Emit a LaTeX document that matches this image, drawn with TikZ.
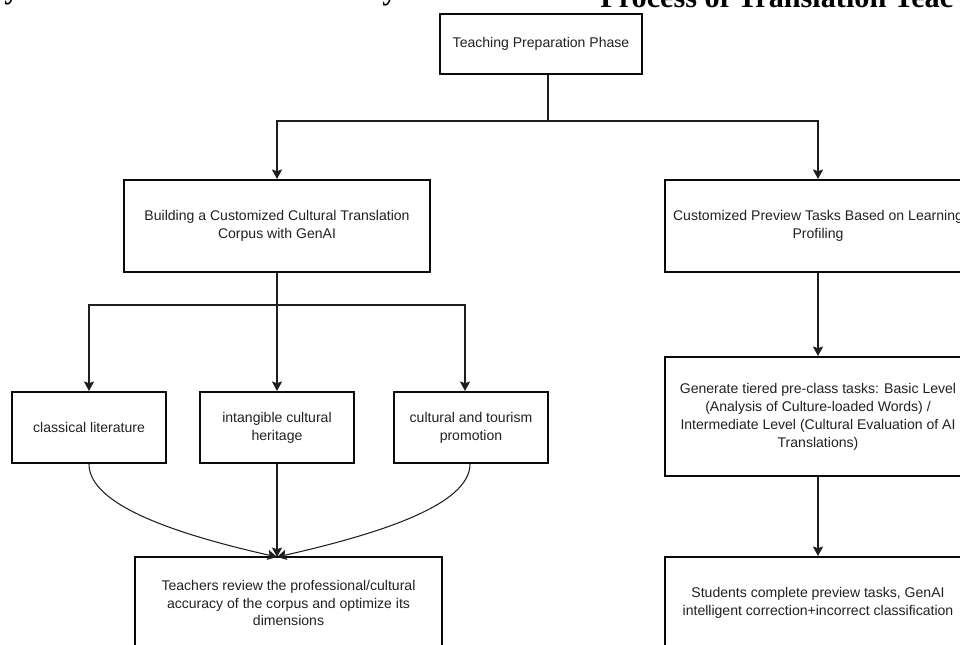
\documentclass[tikz,border=0pt]{standalone}
\usepackage{fontspec}
\setmainfont{Liberation Sans}
\newfontfamily\titlefont{Liberation Serif}
\usetikzlibrary{arrows.meta,calc}
\definecolor{boxline}{HTML}{0A0A0A}
\definecolor{boxtext}{HTML}{222222}
\definecolor{linkgray}{HTML}{1E1E1E}

\begin{document}
\begin{tikzpicture}[x=0.02cm, y=-0.02cm,
  every node/.style={font=\fontsize{8pt}{10.2pt}\selectfont, text=boxtext},
  box/.style={draw=boxline, line width=1.2pt, fill=white, align=center,
    inner sep=2pt},
  wide/.style={box, minimum width=6.13cm, minimum height=1.84cm},
  small/.style={box, minimum width=3.08cm, minimum height=1.42cm},
  cut/.style={font=\titlefont\bfseries\fontsize{17.2pt}{20pt}\selectfont,
    text=black, inner sep=0pt},
  link/.style={draw=linkgray, line width=0.6pt},
  arr/.style={link, -{Stealth[length=5.4pt, width=5.8pt, inset=1pt]}}]

  % ---- Frame (page crop) ----
  \path[use as bounding box, clip] (0,0) rectangle (960,645);
  \fill[white] (0,0) rectangle (960,645);

  % ---- Cut text of the page above ----
  \node[cut, anchor=base west] (heading) at (600,8)
    {Process of Translation Teac};
  \node[cut, anchor=base] (cuta) at (12,-1) {y};
  \node[cut, anchor=base] (cutb) at (390,0) {y};

  % ============ TOP ============
  \node[box, minimum width=4.04cm, minimum height=1.2cm] (prep) at (541,44)
    {Teaching Preparation Phase};

  % ============ LEFT BRANCH: corpus ============
  \node[wide] (corpus) at (277,226)
    {Building a Customized Cultural Translation\\Corpus with GenAI};

  \node[small] (classical) at (89,427.5) {classical literature};
  \node[small] (heritage) at (277,427.5) {intangible cultural\\heritage};
  \node[small] (tourism) at (471,427.5) {cultural and tourism\\promotion};

  \node[wide] (teachers) at (288.5,603)
    {Teachers review the professional/cultural\\accuracy of the corpus and optimize its\\dimensions};

  % ============ RIGHT BRANCH: preview ============
  \node[wide] (preview) at (818,226)
    {Customized Preview Tasks Based on Learning\\Profiling};
  \node[wide, minimum height=2.38cm] (generate) at (818,416.5)
    {Generate tiered pre-class tasks: Basic Level\\(Analysis of Culture-loaded Words) /\\Intermediate Level (Cultural Evaluation of AI\\Translations)};
  \node[wide] (students) at (818,603)
    {Students complete preview tasks, GenAI\\intelligent correction+incorrect classification};

  % ---- Connectors ----
  \coordinate (split1) at (548,121);
  \coordinate (split2) at (277,305);
  \coordinate (merge) at (277,557);

  \draw[link] (prep.south -| split1) -- (split1);
  \draw[arr] (split1) -| (corpus.north);
  \draw[arr] (split1) -| (preview.north);

  \draw[link] (corpus.south) -- (split2);
  \draw[arr] (split2) -| (classical.north);
  \draw[arr] (split2) -- (heritage.north);
  \draw[arr] (split2) -| ([xshift=-0.12cm]tourism.north);

  \draw[arr] (classical.south) .. controls +(0,42) and +(-97,-22) .. (merge);
  \draw[arr] (heritage.south) -- (merge);
  \draw[arr] ([xshift=-0.02cm]tourism.south) .. controls +(0,42) and +(97,-22) .. (merge);

  \draw[arr] (preview) -- (generate);
  \draw[arr] (generate) -- (students);

\end{tikzpicture}
\end{document}
